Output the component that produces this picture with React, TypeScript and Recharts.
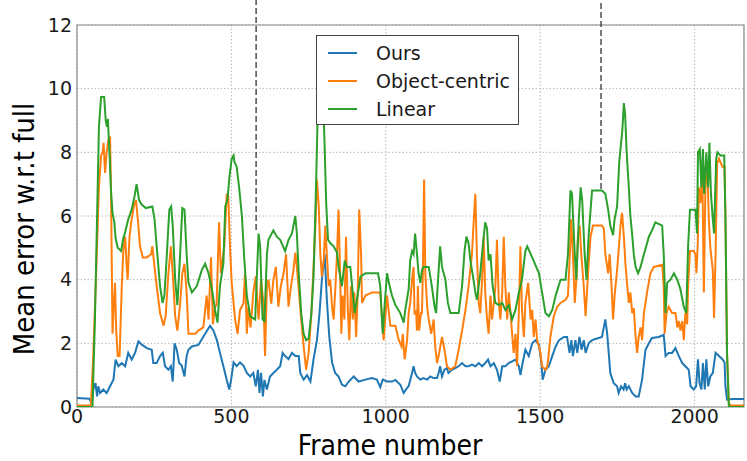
import { LineChart, Line, XAxis, YAxis, CartesianGrid, ReferenceLine, ReferenceArea, Legend } from "recharts";

// [frame, mean error] pairs
const OURS: [number, number][] = [
  [0, 0.28], [40, 0.26], [48, 0.12], [53, 0.55], [60, 0.75], [65, 0.33], [69, 0.65], [75, 0.44], [85, 0.55], [96, 0.44],
  [107, 0.65], [118, 0.86], [125, 1.49], [134, 1.28], [145, 1.38], [156, 1.28], [166, 1.7], [177, 1.49], [188, 1.7], [199, 2.06],
  [210, 1.96], [226, 1.85], [242, 1.8], [247, 1.38], [258, 1.38], [269, 1.6], [278, 1.7], [285, 1.28], [296, 1.17], [304, 1.28],
  [310, 0.8], [316, 2.0], [323, 1.8], [331, 1.38], [339, 1.3], [348, 0.96], [355, 1.6], [361, 1.8], [372, 1.9], [393, 1.95],
  [415, 2.3], [431, 2.55], [442, 2.4], [453, 2.1], [463, 1.7], [474, 1.28], [485, 0.85], [493, 0.55], [499, 0.85], [507, 1.4],
  [517, 1.28], [528, 1.4], [539, 1.3], [550, 1.07], [561, 0.96], [571, 1.07], [579, 0.65], [586, 1.17], [591, 0.44], [596, 1.07],
  [602, 0.33], [607, 0.85], [615, 0.55], [625, 0.96], [636, 1.07], [647, 1.17], [658, 1.28], [666, 1.7], [674, 1.6], [685, 1.5],
  [696, 1.7], [707, 1.6], [718, 1.6], [723, 1.07], [734, 0.86], [745, 1.0], [756, 0.8], [766, 1.5], [777, 2.1], [785, 2.9],
  [793, 4.0], [802, 4.8], [809, 3.4], [817, 2.2], [826, 1.4], [836, 1.07], [847, 0.96], [858, 0.7], [869, 0.65], [880, 0.8],
  [896, 0.96], [912, 0.8], [934, 0.86], [955, 0.91], [971, 0.86], [982, 0.62], [990, 0.86], [1004, 0.8], [1020, 0.8], [1031, 0.85],
  [1047, 0.7], [1058, 0.44], [1069, 0.6], [1074, 0.65], [1085, 1.07], [1090, 1.28], [1095, 1.07], [1101, 0.96], [1112, 0.86], [1122, 0.91],
  [1134, 0.86], [1144, 0.96], [1155, 0.91], [1166, 0.91], [1171, 1.07], [1176, 1.28], [1182, 0.96], [1190, 1.17], [1198, 1.22], [1203, 1.07],
  [1214, 1.17], [1225, 1.22], [1236, 1.28], [1247, 1.38], [1258, 1.28], [1268, 1.28], [1279, 1.33], [1290, 1.28], [1301, 1.38], [1312, 1.28],
  [1322, 1.38], [1331, 1.49], [1339, 1.28], [1350, 1.38], [1360, 1.17], [1369, 0.8], [1377, 1.28], [1387, 1.28], [1398, 1.38], [1409, 1.43],
  [1420, 1.49], [1431, 1.28], [1436, 1.0], [1441, 1.28], [1452, 1.8], [1463, 1.6], [1474, 2.0], [1485, 2.1], [1496, 1.96], [1504, 1.38],
  [1508, 0.86], [1517, 1.17], [1528, 1.28], [1539, 1.6], [1550, 1.9], [1561, 2.1], [1577, 2.2], [1587, 2.2], [1595, 1.7], [1601, 2.1],
  [1606, 1.6], [1614, 2.1], [1620, 1.7], [1627, 2.2], [1634, 1.8], [1641, 2.1], [1647, 1.7], [1657, 2.0], [1668, 2.1], [1684, 2.15],
  [1700, 2.2], [1706, 2.5], [1711, 2.75], [1717, 2.3], [1727, 1.07], [1738, 0.75], [1749, 0.65], [1754, 0.44], [1762, 0.65], [1770, 0.55],
  [1775, 0.75], [1780, 0.55], [1787, 0.65], [1798, 0.44], [1809, 0.33], [1819, 0.33], [1830, 0.86], [1841, 1.8], [1852, 2.0], [1862, 2.17],
  [1884, 2.2], [1900, 2.27], [1906, 1.6], [1916, 1.7], [1927, 1.7], [1938, 1.85], [1949, 1.6], [1960, 1.38], [1970, 1.28], [1981, 1.17],
  [1987, 0.65], [1997, 0.55], [2005, 0.65], [2011, 1.5], [2016, 0.75], [2022, 0.55], [2027, 1.38], [2033, 0.55], [2038, 1.5], [2044, 0.65],
  [2051, 0.96], [2059, 1.07], [2068, 1.7], [2079, 1.6], [2090, 1.5], [2097, 1.4], [2100, 0.65], [2105, 0.23], [2122, 0.25], [2160, 0.25],
];

const OBJECT_CENTRIC: [number, number][] = [
  [0, 0.05], [45, 0.05], [53, 1.7], [64, 4.8], [71, 6.9], [78, 7.9], [83, 8.0], [86, 8.3], [91, 7.35], [96, 8.0],
  [102, 8.4], [107, 8.5], [110, 6.9], [115, 2.3], [119, 3.15], [123, 3.9], [127, 2.4], [132, 1.6], [138, 1.6], [145, 3.8],
  [150, 4.9], [156, 5.35], [161, 4.4], [164, 4.0], [170, 5.35], [177, 5.9], [184, 6.3], [191, 6.5], [197, 5.9], [204, 5.05],
  [213, 4.7], [226, 4.7], [240, 4.8], [244, 5.05], [251, 4.4], [258, 3.8], [269, 2.95], [280, 2.55], [287, 2.85], [296, 4.2],
  [304, 5.05], [310, 4.2], [318, 2.85], [325, 2.4], [334, 3.25], [341, 4.2], [348, 4.5], [355, 3.6], [361, 2.3], [383, 2.3],
  [393, 2.4], [409, 2.5], [420, 3.5], [426, 2.75], [434, 4.7], [440, 2.6], [447, 3.15], [452, 3.2], [460, 5.8], [466, 4.2],
  [477, 5.05], [485, 6.7], [490, 6.6], [496, 4.9], [501, 3.9], [512, 2.75], [520, 2.3], [528, 3.05], [539, 3.25], [544, 4.2],
  [550, 2.3], [555, 3.15], [562, 2.5], [571, 3.6], [579, 4.1], [588, 2.75], [596, 4.0], [604, 3.25], [609, 1.6], [615, 3.8],
  [620, 4.0], [629, 3.25], [636, 4.0], [644, 4.4], [652, 3.15], [660, 3.8], [669, 4.2], [677, 4.8], [685, 3.15], [693, 3.8],
  [701, 4.3], [707, 4.85], [712, 4.4], [718, 3.7], [726, 2.75], [734, 1.9], [742, 1.17], [750, 1.7], [759, 2.95], [766, 4.4],
  [772, 5.7], [777, 7.15], [783, 6.3], [788, 4.8], [793, 4.1], [799, 4.6], [804, 5.7], [809, 4.8], [815, 3.8], [820, 4.0],
  [826, 3.15], [831, 2.75], [837, 3.8], [842, 4.8], [847, 6.2], [852, 4.2], [856, 2.3], [860, 3.5], [866, 2.75], [871, 5.35],
  [877, 3.05], [882, 2.1], [887, 3.8], [893, 2.75], [898, 3.6], [904, 2.2], [909, 3.6], [914, 6.2], [920, 4.8], [923, 3.27],
  [934, 3.5], [955, 3.6], [982, 3.6], [988, 2.75], [993, 2.1], [999, 2.9], [1004, 3.5], [1010, 2.95], [1015, 2.55], [1031, 2.55],
  [1042, 2.1], [1051, 1.9], [1055, 2.3], [1061, 1.5], [1069, 2.1], [1074, 2.95], [1079, 3.27], [1085, 4.0], [1090, 4.4], [1093, 2.95],
  [1098, 3.0], [1101, 2.4], [1104, 3.8], [1108, 2.4], [1114, 2.95], [1117, 2.95], [1120, 4.2], [1124, 7.15], [1128, 4.2], [1134, 3.15],
  [1139, 2.75], [1147, 2.3], [1155, 2.75], [1160, 1.9], [1166, 1.38], [1171, 1.6], [1182, 2.2], [1190, 1.8], [1198, 1.28], [1209, 1.17],
  [1225, 1.28], [1236, 1.8], [1247, 2.4], [1258, 3.05], [1268, 3.8], [1279, 4.8], [1285, 5.9], [1290, 6.7], [1295, 4.8], [1301, 3.27],
  [1306, 2.95], [1312, 4.0], [1317, 5.35], [1322, 3.6], [1328, 2.75], [1333, 2.3], [1339, 3.5], [1344, 2.75], [1350, 3.27], [1355, 3.8],
  [1360, 5.25], [1366, 3.3], [1371, 2.75], [1377, 3.6], [1382, 5.35], [1387, 3.8], [1393, 2.75], [1398, 3.6], [1404, 2.95], [1409, 2.3],
  [1414, 1.7], [1420, 2.3], [1425, 1.28], [1431, 3.0], [1436, 5.05], [1441, 3.05], [1447, 2.2], [1452, 3.27], [1461, 3.9], [1469, 2.75],
  [1474, 3.05], [1479, 2.2], [1485, 2.75], [1490, 2.1], [1496, 1.9], [1501, 1.7], [1506, 1.28], [1517, 1.17], [1523, 1.28], [1528, 1.7],
  [1533, 2.2], [1544, 2.85], [1555, 3.15], [1566, 3.27], [1582, 3.37], [1590, 3.5], [1596, 4.8], [1600, 5.9], [1606, 4.8], [1612, 3.27],
  [1617, 4.0], [1622, 5.35], [1628, 5.7], [1633, 4.8], [1641, 3.8], [1647, 2.85], [1655, 4.2], [1663, 5.35], [1671, 5.7], [1700, 5.7],
  [1706, 5.6], [1711, 4.8], [1720, 4.2], [1725, 4.8], [1731, 3.8], [1736, 2.75], [1741, 3.5], [1749, 4.3], [1754, 4.9], [1760, 5.7],
  [1765, 6.1], [1771, 5.35], [1776, 4.5], [1782, 3.8], [1787, 3.27], [1792, 3.6], [1798, 2.95], [1803, 3.1], [1809, 2.2], [1814, 1.7],
  [1819, 2.2], [1825, 2.5], [1830, 2.1], [1836, 2.95], [1846, 3.6], [1857, 4.2], [1868, 4.4], [1895, 4.47], [1900, 3.8], [1903, 2.3],
  [1909, 2.95], [1916, 3.15], [1927, 2.95], [1938, 2.95], [1944, 2.5], [1949, 2.7], [1954, 2.4], [1960, 2.7], [1965, 2.1], [1970, 2.95],
  [1976, 2.6], [1979, 3.8], [1985, 4.9], [1997, 4.9], [2003, 4.8], [2006, 4.2], [2010, 5.05], [2014, 6.9], [2019, 6.4], [2025, 7.45],
  [2030, 3.6], [2035, 6.9], [2041, 7.65], [2046, 5.9], [2051, 5.0], [2059, 4.3], [2063, 2.8], [2068, 4.8], [2073, 7.65], [2079, 7.8],
  [2090, 7.55], [2097, 7.55], [2100, 5.9], [2105, 1.7], [2111, 0.12], [2116, 0.05], [2160, 0.05],
];

const LINEAR: [number, number][] = [
  [0, 0], [50, 0], [58, 2.7], [67, 6.9], [71, 8.8], [78, 9.74], [88, 9.74], [93, 9.0], [97, 8.8], [100, 9.05],
  [106, 7.8], [110, 6.8], [115, 6.1], [121, 5.8], [125, 5.3], [132, 5.0], [143, 4.9], [150, 5.3], [156, 5.5], [166, 5.9],
  [177, 6.2], [186, 6.6], [193, 7.0], [201, 6.5], [210, 6.35], [223, 6.25], [244, 6.3], [251, 5.9], [258, 5.05], [269, 3.8],
  [277, 3.27], [283, 3.5], [291, 4.8], [299, 6.2], [305, 6.3], [310, 5.7], [318, 4.0], [325, 3.2], [334, 4.8], [341, 6.25],
  [348, 6.2], [355, 4.8], [361, 3.9], [372, 3.6], [388, 3.8], [404, 4.3], [415, 4.5], [426, 4.2], [437, 3.7], [447, 3.05],
  [455, 2.65], [463, 3.8], [474, 4.5], [480, 6.3], [487, 6.5], [494, 7.25], [501, 7.8], [507, 7.9], [510, 7.7], [517, 7.55],
  [525, 6.9], [534, 6.0], [542, 4.6], [550, 3.5], [561, 2.85], [577, 2.75], [582, 4.0], [588, 5.45], [593, 5.05], [601, 2.75],
  [607, 2.7], [615, 4.8], [620, 5.25], [636, 5.55], [647, 5.35], [658, 5.25], [674, 4.9], [685, 5.25], [696, 5.45], [707, 6.0],
  [712, 5.45], [718, 4.2], [726, 2.95], [734, 2.3], [742, 2.1], [750, 2.15], [759, 2.95], [766, 4.1], [774, 6.9], [779, 9.0],
  [786, 10.4], [795, 10.2], [801, 8.5], [807, 6.4], [813, 5.25], [820, 5.15], [831, 5.05], [842, 4.85], [847, 4.4], [858, 3.8],
  [867, 4.6], [874, 4.4], [885, 4.4], [891, 3.8], [899, 2.95], [907, 3.4], [918, 4.1], [934, 4.2], [955, 4.2], [975, 4.2],
  [982, 3.8], [990, 2.3], [997, 3.3], [1004, 4.2], [1010, 3.9], [1020, 3.5], [1031, 3.2], [1047, 2.95], [1058, 2.65], [1063, 3.05],
  [1074, 3.7], [1079, 4.6], [1085, 4.9], [1090, 4.8], [1095, 5.45], [1101, 4.8], [1106, 4.2], [1112, 3.9], [1117, 4.3], [1122, 4.4],
  [1139, 4.4], [1149, 3.8], [1158, 3.15], [1163, 2.95], [1168, 3.8], [1176, 5.05], [1182, 4.4], [1193, 4.0], [1201, 3.27], [1209, 2.95],
  [1236, 2.95], [1247, 3.8], [1255, 4.9], [1261, 5.35], [1268, 5.15], [1274, 4.6], [1284, 4.0], [1290, 3.6], [1295, 3.37], [1306, 4.2],
  [1314, 5.05], [1322, 5.8], [1328, 5.6], [1333, 4.6], [1339, 4.8], [1346, 3.8], [1355, 3.27], [1366, 3.2], [1377, 3.27], [1387, 3.05],
  [1398, 3.2], [1409, 2.75], [1420, 3.05], [1431, 3.6], [1441, 4.0], [1452, 4.9], [1458, 5.05], [1474, 4.7], [1496, 4.2], [1506, 3.6],
  [1517, 2.95], [1528, 2.85], [1539, 3.05], [1550, 3.5], [1566, 4.0], [1582, 4.0], [1590, 4.8], [1598, 6.8], [1603, 6.7], [1612, 4.8],
  [1617, 4.0], [1625, 5.9], [1631, 6.9], [1636, 6.5], [1644, 4.8], [1650, 4.0], [1657, 5.4], [1668, 6.8], [1700, 6.8], [1711, 6.7],
  [1720, 6.2], [1727, 5.7], [1736, 5.4], [1741, 5.9], [1749, 6.3], [1756, 7.7], [1762, 8.3], [1766, 8.7], [1771, 9.55], [1775, 9.2],
  [1780, 8.0], [1787, 6.9], [1792, 6.0], [1798, 5.4], [1803, 4.8], [1809, 4.4], [1817, 4.2], [1825, 4.4], [1836, 4.8], [1852, 5.35],
  [1862, 5.55], [1873, 5.8], [1895, 5.7], [1900, 4.8], [1906, 2.95], [1911, 3.9], [1922, 4.0], [1933, 4.2], [1944, 4.0], [1954, 3.7],
  [1965, 3.15], [1973, 2.95], [1979, 5.05], [1985, 6.2], [2003, 6.2], [2008, 5.45], [2011, 8.0], [2017, 8.1], [2022, 6.9], [2027, 8.1],
  [2031, 6.7], [2038, 8.0], [2044, 6.9], [2048, 8.3], [2053, 6.7], [2059, 5.9], [2063, 5.45], [2070, 7.8], [2074, 8.0], [2084, 7.9],
  [2096, 7.9], [2100, 5.9], [2105, 1.7], [2111, 0], [2160, 0],
];

const X_TICKS = [0, 500, 1000, 1500, 2000];
const Y_TICKS = [0, 2, 4, 6, 8, 10, 12];
// dashed markers: [frame, value where the marker stops]
const MARKERS: [number, number][] = [[580, 5.56], [1697, 6.85]];

const SERIES = [
  { name: "Ours", color: "#1f77b4", points: OURS },
  { name: "Object-centric", color: "#ff7f0e", points: OBJECT_CENTRIC },
  { name: "Linear", color: "#2ca02c", points: LINEAR },
];

const toRows = (pts: [number, number][]) => pts.map(([f, v]) => ({ f, v }));

const tickStyle = { fontFamily: "DejaVu Sans", fontSize: 19, fill: "#1a1a1a" };
const labelFont = "'DejaVu Sans Condensed', 'DejaVu Sans'";

// keep the legend in plotting order (Ours, Object-centric, Linear)
function LegendBox() {
  return (
    <div style={{ width: 203, height: 90, boxSizing: "border-box", background: "#fff", border: "1px solid #444", paddingTop: 3 }}>
      {SERIES.map((s) => (
        <div key={s.name} style={{ display: "flex", alignItems: "center", height: 28 }}>
          <span style={{ display: "inline-block", marginLeft: 11, width: 29, height: 2, background: s.color }} />
          <span style={{ marginLeft: 19, fontFamily: "DejaVu Sans", fontSize: 19, color: "#1a1a1a" }}>{s.name}</span>
        </div>
      ))}
    </div>
  );
}

export default function App() {
  return (
    <div style={{ position: "absolute", left: 0, top: 0, width: 747, height: 461, background: "#fff" }}>
      <LineChart width={747} height={461} margin={{ top: 25, right: 3, bottom: 0, left: 0 }}>
        <CartesianGrid stroke="#b8b8b8" strokeDasharray="1.5 2" />
        <XAxis
          type="number"
          dataKey="f"
          domain={[0, 2160]}
          ticks={X_TICKS}
          allowDataOverflow
          height={54}
          axisLine={false}
          tickLine={false}
          tickSize={0}
          tickMargin={3}
          tick={tickStyle}
          label={{
            content: () => (
              <text x={390} y={455} textAnchor="middle" fontFamily={labelFont} fontSize={28} fill="#000">
                Frame number
              </text>
            ),
          }}
        />
        <YAxis
          type="number"
          domain={[0, 12]}
          ticks={Y_TICKS}
          allowDataOverflow
          width={77}
          axisLine={false}
          tickLine={false}
          tickSize={0}
          tickMargin={5}
          tick={tickStyle}
          label={{
            content: () => (
              <text x={34} y={229} transform="rotate(-90 34 229)" textAnchor="middle" fontFamily={labelFont} fontSize={29} fill="#000">
                Mean error w.r.t full
              </text>
            ),
          }}
        />
        <ReferenceArea x1={0} x2={2160} y1={0} y2={12} fill="none" stroke="#8a8a8a" strokeWidth={1.2} />
        {SERIES.map((s) => (
          <Line
            key={s.name}
            data={toRows(s.points)}
            dataKey="v"
            name={s.name}
            type="linear"
            stroke={s.color}
            strokeWidth={2}
            dot={false}
            isAnimationActive={false}
          />
        ))}
        {MARKERS.map(([f, v]) => (
          <ReferenceLine
            key={f}
            segment={[{ x: f, y: v }, { x: f, y: 12.8 }]}
            ifOverflow="visible"
            stroke="#333"
            strokeWidth={1.3}
            strokeDasharray="6 3"
          />
        ))}
        <Legend
          layout="vertical"
          align="center"
          verticalAlign="middle"
          wrapperStyle={{ left: 316, top: 35, width: 203 }}
          content={<LegendBox />}
        />
      </LineChart>
    </div>
  );
}
